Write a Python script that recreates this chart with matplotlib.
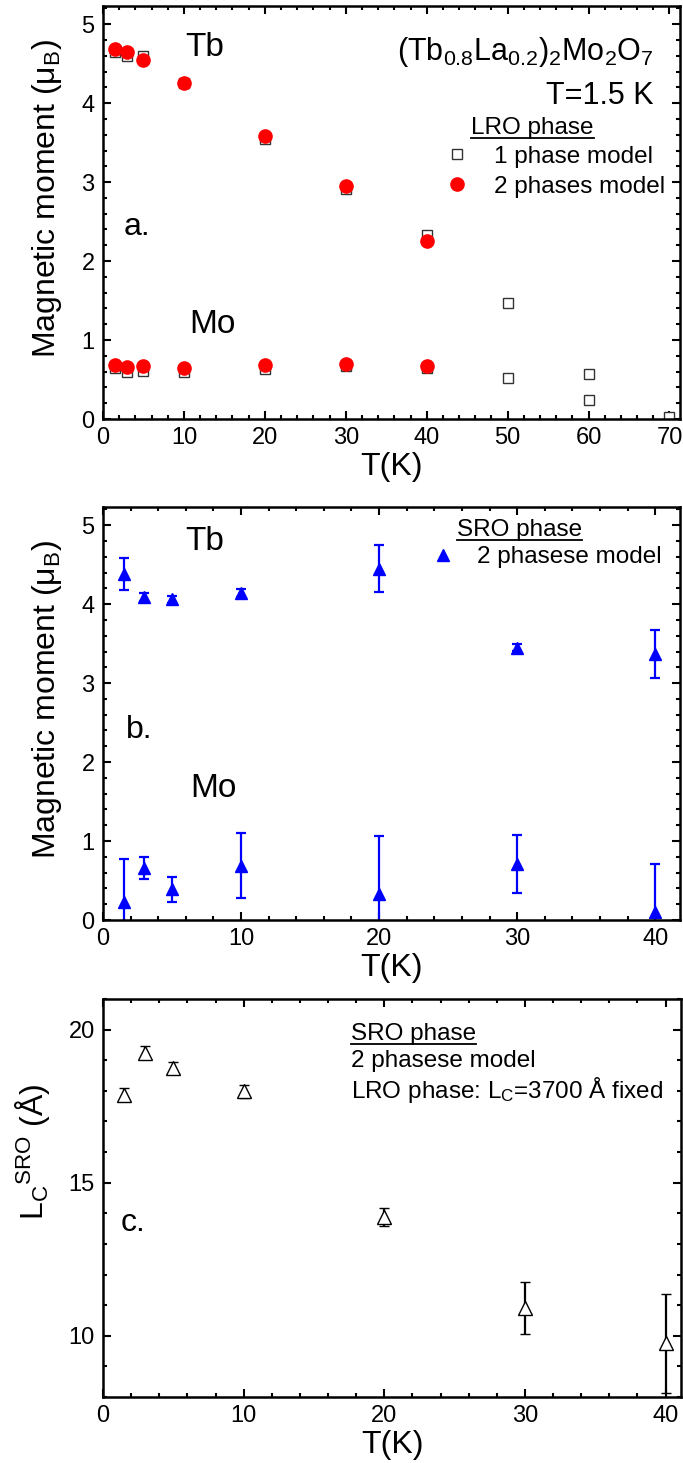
import numpy as np
import matplotlib
matplotlib.use('Agg')
import matplotlib.pyplot as plt
from matplotlib.ticker import MultipleLocator
from matplotlib.lines import Line2D

plt.rcParams['font.family'] = ['Liberation Sans', 'DejaVu Sans']
plt.rcParams['mathtext.default'] = 'regular'

# ---- panel a: LRO phase ----
T1_tb = [1.5, 3, 5, 10, 20, 30, 40, 50, 60, 70]
m1_tb = [4.65, 4.60, 4.60, 4.25, 3.55, 2.91, 2.33, 1.47, 0.57, 0.03]
T1_mo = [1.5, 3, 5, 10, 20, 30, 40, 50, 60]
m1_mo = [0.64, 0.60, 0.61, 0.59, 0.63, 0.67, 0.64, 0.52, 0.24]
T2 = [1.5, 3, 5, 10, 20, 30, 40]
m2_tb = [4.69, 4.65, 4.55, 4.26, 3.59, 2.95, 2.26]
m2_mo = [0.68, 0.66, 0.67, 0.65, 0.69, 0.70, 0.67]

# ---- panel b: SRO phase, 2 phases model ----
Tb_ = [1.5, 3, 5, 10, 20, 30, 40]
sro_tb = [4.38, 4.085, 4.06, 4.14, 4.45, 3.45, 3.37]
sro_tb_err = [0.20, 0.05, 0.04, 0.05, 0.30, 0.04, 0.30]
sro_mo = [0.23, 0.66, 0.39, 0.69, 0.33, 0.71, 0.105]
sro_mo_err = [0.54, 0.14, 0.16, 0.41, 0.73, 0.37, 0.60]

# ---- panel c: correlation length ----
Tc = [1.5, 3, 5, 10, 20, 30, 40]
Lc = [17.88, 19.25, 18.74, 17.98, 13.87, 10.92, 9.76]
Lc_err = [0.2, 0.2, 0.2, 0.2, 0.3, 0.85, 1.62]

fig = plt.figure(figsize=(6.83, 14.63), dpi=100)
W, H = 683, 1463
def add_ax(left, right, top, bottom):
    return fig.add_axes([left / W, 1 - bottom / H, (right - left) / W, (bottom - top) / H])

axa = add_ax(103, 680, 6, 419)
axb = add_ax(103, 680, 507, 920)
axc = add_ax(103, 681, 999, 1397)

def style(ax, xmaj, xmin, ymaj, ymin):
    ax.xaxis.set_major_locator(MultipleLocator(xmaj))
    ax.xaxis.set_minor_locator(MultipleLocator(xmin))
    ax.yaxis.set_major_locator(MultipleLocator(ymaj))
    ax.yaxis.set_minor_locator(MultipleLocator(ymin))
    ax.tick_params(which='both', direction='in', top=True, right=True, width=1.5, labelsize=17)
    ax.tick_params(which='major', length=5.5, pad=6)
    ax.tick_params(which='minor', length=3)
    for s in ax.spines.values():
        s.set_linewidth(1.8)
    ax.set_xlabel('T(K)', fontsize=23, labelpad=2)

tfs = 24   # Tb / Mo labels
sfs = 17.5 # legend-ish text

# panel a
axa.plot(T1_tb, m1_tb, 's', ms=7.5, mfc='white', mec='#333333', mew=1.0, ls='none')
axa.plot(T1_mo, m1_mo, 's', ms=7.5, mfc='white', mec='#333333', mew=1.0, ls='none')
axa.plot(T2, m2_tb, 'o', ms=9.5, color='red', ls='none')
axa.plot(T2, m2_mo, 'o', ms=9.5, color='red', ls='none')
axa.set_xlim(0, 71.3)
axa.set_ylim(0, 5.23)
style(axa, 10, 2, 1, 0.2)
axa.set_ylabel('Magnetic moment (μ$_{B}$)', fontsize=23)
axa.text(12.6, 4.71, 'Tb', fontsize=tfs, ha='center', va='center')
axa.text(13.5, 1.2, 'Mo', fontsize=tfs, ha='center', va='center')
axa.text(4.2, 2.43, 'a.', fontsize=23, ha='center', va='center')
axa.text(68.0, 4.65, '(Tb$_{0.8}$La$_{0.2}$)$_{2}$Mo$_{2}$O$_{7}$', fontsize=22, ha='right', va='center')
axa.text(68.0, 4.09, 'T=1.5 K', fontsize=22, ha='right', va='center')
lro = axa.text(53.1, 3.69, 'LRO phase', fontsize=sfs, ha='center', va='center')
ha = [Line2D([], [], marker='s', ms=7, mfc='white', mec='#333333', mew=1.0, ls='none'),
      Line2D([], [], marker='o', ms=9.5, color='red', ls='none')]
axa.legend(ha, ['1 phase model', '2 phases model'], loc='upper left', bbox_to_anchor=(0.593, 0.662),
           frameon=False, fontsize=sfs, borderpad=0, borderaxespad=0, handlelength=1.0,
           handletextpad=1.0, labelspacing=0.33)

# panel b
axb.errorbar(Tb_, sro_tb, yerr=sro_tb_err, fmt='^', ms=9, color='blue', ecolor='blue',
             elinewidth=1.6, capsize=3.5, capthick=1.6)
axb.errorbar(Tb_, sro_mo, yerr=sro_mo_err, fmt='^', ms=9, color='blue', ecolor='blue',
             elinewidth=1.6, capsize=3.5, capthick=1.6)
axb.set_xlim(0, 41.8)
axb.set_ylim(0, 5.23)
style(axb, 10, 2, 1, 0.2)
axb.set_ylabel('Magnetic moment (μ$_{B}$)', fontsize=23)
axb.text(7.4, 4.79, 'Tb', fontsize=tfs, ha='center', va='center')
axb.text(8.0, 1.67, 'Mo', fontsize=tfs, ha='center', va='center')
axb.text(2.6, 2.41, 'b.', fontsize=23, ha='center', va='center')
sro_b = axb.text(30.2, 4.94, 'SRO phase', fontsize=sfs, ha='center', va='center')
hb = [Line2D([], [], marker='^', ms=9, color='blue', ls='none')]
axb.legend(hb, ['2 phasese model'], loc='center left', bbox_to_anchor=(0.568, 0.878),
           frameon=False, fontsize=sfs, borderpad=0, borderaxespad=0, handlelength=1.0,
           handletextpad=0.9)

# panel c
axc.errorbar(Tc, Lc, yerr=Lc_err, fmt='^', ms=10, mfc='white', mec='black', mew=1.0,
             ecolor='black', elinewidth=1.6, capsize=3.5, capthick=1.6)
axc.set_xlim(0, 41.1)
axc.set_ylim(8, 21)
style(axc, 10, 2, 5, 1)
axc.set_ylabel('L$_{C}$$^{SRO}$ (Å)', fontsize=23)
axc.text(2.1, 13.68, 'c.', fontsize=23, ha='center', va='center')
sro_c = axc.text(17.6, 19.87, 'SRO phase', fontsize=sfs, ha='left', va='center')
axc.text(17.6, 18.99, '2 phasese model', fontsize=sfs, ha='left', va='center')
axc.text(17.6, 18.04, 'LRO phase: L$_{C}$=3700 Å fixed', fontsize=sfs, ha='left', va='center')

axa.yaxis.set_label_coords(-0.067, 0.535)
axb.yaxis.set_label_coords(-0.067, 0.535)
axc.yaxis.set_label_coords(-0.088, 0.615)

# underline the phase headers
fig.canvas.draw()
r = fig.canvas.get_renderer()
for t in (lro, sro_b, sro_c):
    bb = t.get_window_extent(r)
    y = bb.y0 + 1
    fig.add_artist(Line2D([bb.x0 / W, bb.x1 / W], [y / H, y / H],
                          transform=fig.transFigure, color='black', lw=1.3))

fig.savefig('out.png', dpi=100)
